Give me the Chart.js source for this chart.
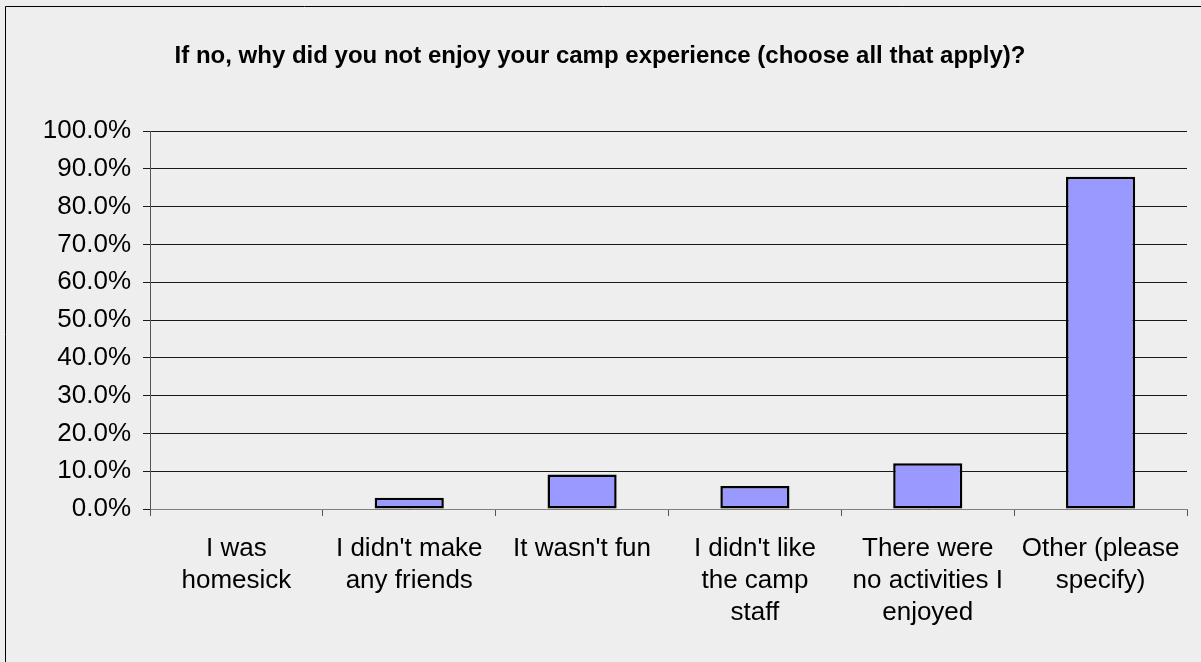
<!DOCTYPE html>
<html>
<head>
<meta charset="utf-8">
<script src="https://cdn.jsdelivr.net/npm/chart.js@4.4.0/dist/chart.umd.min.js"></script>
<style>
    html, body { margin: 0; padding: 0; background: #eeeeee; }
    #wrap { width: 1201px; height: 662px; position: relative; }
</style>
</head>
<body>
<div id="wrap"><canvas id="surveyChart" width="1201" height="662"></canvas></div>
<script>
const chartTitle = 'If no, why did you not enjoy your camp experience (choose all that apply)?';
const categories = [
    ['I was', 'homesick'],
    ["I didn't make", 'any friends'],
    ["It wasn't fun"],
    ["I didn't like", 'the camp', 'staff'],
    ['There were', 'no activities I', 'enjoyed'],
    ['Other (please', 'specify)']
];
const percentages = [0.0, 3.0, 9.1, 6.1, 12.1, 87.9];
const yTicks = [0, 10, 20, 30, 40, 50, 60, 70, 80, 90, 100];

// title and the left/top frame line
const framePlugin = {
    id: 'frame',
    beforeDraw(chart) {
        const ctx = chart.ctx;
        ctx.save();
        ctx.fillStyle = '#eeeeee';
        ctx.fillRect(0, 0, chart.width, chart.height);
        ctx.strokeStyle = '#000000';
        ctx.lineWidth = 1;
        ctx.beginPath();
        ctx.moveTo(5.5, chart.height);
        ctx.lineTo(5.5, 6.5);
        ctx.lineTo(chart.width, 6.5);
        ctx.stroke();
        ctx.fillStyle = '#000000';
        ctx.font = 'bold 24px "Liberation Sans", Arial, sans-serif';
        ctx.textAlign = 'center';
        ctx.textBaseline = 'middle';
        ctx.fillText(chartTitle, 600, 56);
        ctx.restore();
    }
};

const ctx = document.getElementById('surveyChart').getContext('2d');
new Chart(ctx, {
    type: 'bar',
    data: {
        labels: categories,
        datasets: [{
            data: percentages,
            backgroundColor: '#9999ff',
            borderColor: '#000000',
            borderWidth: 2.5,
            borderSkipped: false,
            barPercentage: 0.4,
            categoryPercentage: 1.0
        }]
    },
    options: {
        responsive: false,
        animation: false,
        layout: {
            padding: { left: 0, right: 14, top: 131, bottom: 0 }
        },
        plugins: {
            legend: { display: false },
            tooltip: { enabled: false },
            title: { display: false }
        },
        scales: {
            x: {
                offset: true,
                grid: {
                    offset: true,
                    drawOnChartArea: false,
                    drawTicks: true,
                    tickLength: 7,
                    color: '#555555'
                },
                border: { color: '#808080', width: 1 },
                ticks: {
                    color: '#000000',
                    font: { family: '"Liberation Sans", Arial, sans-serif', size: 26, lineHeight: 1.23 },
                    padding: 17,
                    maxRotation: 0,
                    autoSkip: false
                },
                afterFit(scale) { scale.height = 153; }
            },
            y: {
                min: 0,
                max: 100,
                afterBuildTicks(scale) {
                    scale.ticks = yTicks.map(v => ({ value: v }));
                },
                grid: {
                    color: '#1a1a1a',
                    lineWidth: 1,
                    tickLength: 7
                },
                border: { color: '#555555', width: 1 },
                ticks: {
                    color: '#000000',
                    font: { family: '"Liberation Sans", Arial, sans-serif', size: 26 },
                    padding: 12,
                    callback: value => value.toFixed(1) + '%'
                },
                afterFit(scale) { scale.width = 150; }
            }
        }
    },
    plugins: [framePlugin]
});
</script>
</body>
</html>
